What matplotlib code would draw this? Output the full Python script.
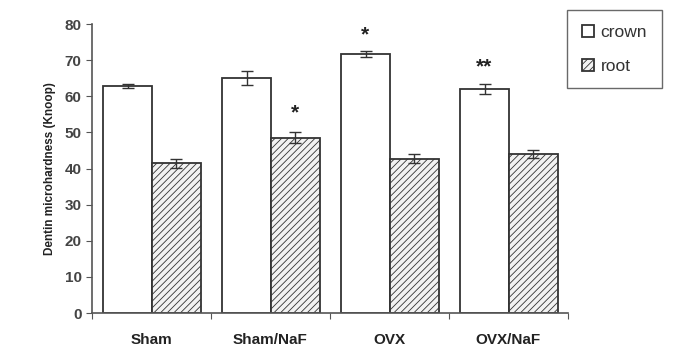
import matplotlib
matplotlib.use('Agg')
import matplotlib.pyplot as plt
import numpy as np

groups = ['Sham', 'Sham/NaF', 'OVX', 'OVX/NaF']
crown = [62.9, 65.1, 71.7, 62.0]
crown_err = [0.6, 2.0, 0.7, 1.5]
root = [41.4, 48.5, 42.7, 44.0]
root_err = [1.2, 1.5, 1.2, 1.0]
root_marks = ['', '*', '', '']
crown_marks = ['', '', '*', '**']

plt.rcParams['font.family'] = ['Liberation Sans', 'DejaVu Sans']
plt.rcParams['hatch.color'] = '#a5a5a5'
plt.rcParams['hatch.linewidth'] = 0.6

fig = plt.figure(figsize=(6.76, 3.53), dpi=100)
ax = fig.add_axes([0.136, 0.113, 0.704, 0.819])

x = np.arange(len(groups))
w = 0.41
ekw = dict(ecolor='#333333', elinewidth=1.0, capsize=4, capthick=1.0)
b1 = ax.bar(x - w / 2 + 0.005, crown, w, yerr=crown_err, color='white',
            edgecolor='#333333', linewidth=1.3, label='crown', error_kw=ekw)
b2 = ax.bar(x + w / 2 + 0.005, root, w, yerr=root_err, color='#f2f2f2',
            edgecolor='#333333', linewidth=1.3, hatch='/////', label='root',
            error_kw=ekw)

# significance stars
for i in range(len(groups)):
    if crown_marks[i]:
        ax.text(x[i] - w / 2, crown[i] + crown_err[i] + 4.5, crown_marks[i],
                ha='center', va='center', fontsize=15, fontweight='bold',
                color='#222222')
    if root_marks[i]:
        ax.text(x[i] + w / 2, root[i] + root_err[i] + 5.5, root_marks[i],
                ha='center', va='center', fontsize=15, fontweight='bold',
                color='#222222')

ax.set_xlim(-0.5, 3.5)
ax.set_ylim(0, 80)
ax.set_yticks(range(0, 81, 10))
ax.set_xticks(np.arange(-0.5, 3.6, 1.0))
ax.set_xticklabels([])
ax.tick_params(axis='x', length=4, color='#555555', direction='out')
ax.tick_params(axis='y', length=4, color='#555555', labelsize=11,
               labelcolor='#444444')
for lab in ax.get_yticklabels():
    lab.set_fontweight('bold')
for i, g in enumerate(groups):
    ax.text(x[i], -7.5, g, ha='center', va='center', fontsize=11,
            fontweight='bold', color='#222222')

ax.spines['top'].set_visible(False)
ax.spines['right'].set_visible(False)
ax.spines['left'].set_color('#555555')
ax.spines['bottom'].set_color('#555555')
ax.spines['left'].set_linewidth(1.2)
ax.spines['bottom'].set_linewidth(1.2)

ax.set_ylabel('Dentin microhardness (Knoop)', fontsize=8.5, fontweight='bold',
              color='#222222', labelpad=6)

leg = ax.legend(loc='upper left', bbox_to_anchor=(0.998, 1.047), fontsize=12.5,
                frameon=True, fancybox=False, edgecolor='#444444',
                handlelength=0.7, handleheight=0.7, handletextpad=0.4,
                borderpad=0.85, labelspacing=1.05, borderaxespad=0)
leg.get_frame().set_linewidth(1.0)
for t in leg.get_texts():
    t.set_color('#333333')

fig.savefig('out.png', dpi=100)
